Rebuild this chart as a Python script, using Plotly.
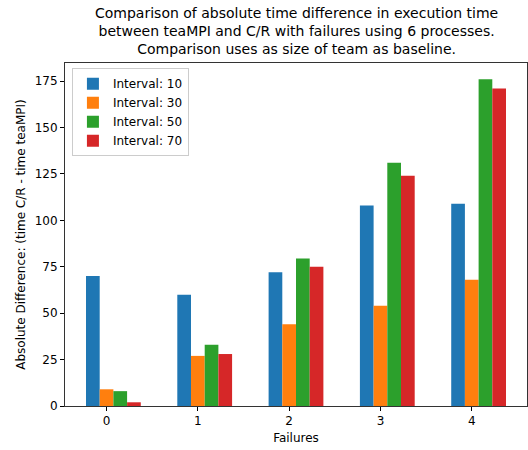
import plotly.graph_objects as go

# Number of failures on the x axis
failures = [0, 1, 2, 3, 4]

# Absolute difference (time C/R - time teaMPI) per checkpoint interval
interval_10 = [70, 60, 72, 108, 109]
interval_30 = [9, 27, 44, 54, 68]
interval_50 = [8, 33, 79.5, 131, 176]
interval_70 = [2, 28, 75, 124, 171]

series_names = ["Interval: 10", "Interval: 30", "Interval: 50", "Interval: 70"]
series_values = [interval_10, interval_30, interval_50, interval_70]
colors = ["#1f77b4", "#ff7f0e", "#2ca02c", "#d62728"]
offsets = [-0.15, 0.0, 0.15, 0.3]
bar_width = 0.15

title_text = ("Comparison of absolute time difference in execution time<br>"
              "between teaMPI and C/R with failures using 6 processes.<br>"
              "Comparison uses as size of team as baseline.")

fig = go.Figure()
for name, vals, col, off in zip(series_names, series_values, colors, offsets):
    fig.add_trace(go.Bar(
        x=[f + off for f in failures],
        y=vals,
        width=bar_width,
        name=name,
        marker=dict(color=col, line=dict(width=0)),
    ))

font_family = "DejaVu Sans"
fig.update_layout(
    width=528,
    height=450,
    barmode="overlay",
    plot_bgcolor="white",
    paper_bgcolor="white",
    margin=dict(l=65, r=1, t=63, b=44),
    font=dict(family=font_family, color="black", size=12),
    legend=dict(
        x=0.015, y=0.985, xanchor="left", yanchor="top",
        bgcolor="rgba(255,255,255,0.8)",
        bordercolor="#cccccc", borderwidth=1,
        font=dict(family=font_family, size=12),
        tracegroupgap=2,
    ),
    showlegend=True,
)
# Three-line title centred over the plotting area
fig.add_annotation(
    text=title_text,
    xref="paper", yref="paper", x=0.5, y=1.0,
    xanchor="center", yanchor="bottom", yshift=4,
    showarrow=False, align="center",
    font=dict(family=font_family, size=14, color="black"),
)
fig.update_xaxes(
    range=[-0.455, 4.605],
    tickmode="array", tickvals=failures, ticktext=[str(f) for f in failures],
    ticks="outside", ticklen=4, tickcolor="black",
    showline=True, linecolor="#333333", linewidth=1, mirror=True,
    showgrid=False, zeroline=False,
    title=dict(text="Failures", standoff=6, font=dict(size=12)),
)
fig.update_yaxes(
    range=[0, 184.8],
    tickmode="array", tickvals=[0, 25, 50, 75, 100, 125, 150, 175],
    ticks="outside", ticklen=4, tickcolor="black",
    showline=True, linecolor="#333333", linewidth=1, mirror=True,
    showgrid=False, zeroline=False,
    title=dict(text="Absolute Difference: (time C/R - time teaMPI)", standoff=6, font=dict(size=12)),
)

fig.write_html("out.html")
